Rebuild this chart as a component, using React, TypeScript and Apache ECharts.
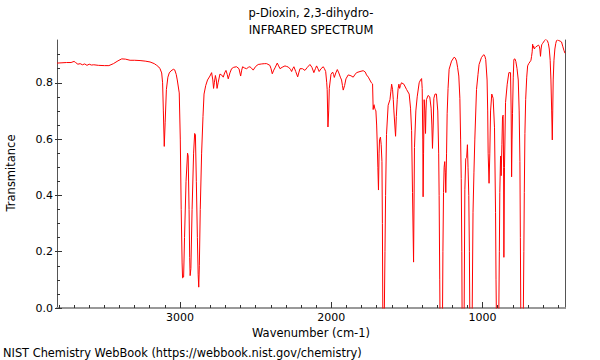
import React, { useEffect, useRef } from "react";
import * as echarts from "echarts";

const wavenumbers: number[] = [
  3813, 3780, 3750, 3720, 3700, 3690, 3675, 3660, 3645, 3630, 3615, 3600, 3585, 3570, 3540, 3500, 3470, 3440, 3410, 3385,
  3360, 3330, 3300, 3264, 3230, 3198, 3170, 3154, 3140, 3132, 3121, 3115, 3110, 3104, 3098, 3090, 3080, 3071, 3060, 3044,
  3035, 3025, 3018, 3005, 2998, 2992, 2986, 2983, 2976, 2970, 2960, 2950, 2946, 2940, 2936, 2933, 2928, 2920, 2910, 2903,
  2898, 2892, 2885, 2880, 2876, 2872, 2866, 2857, 2848, 2841, 2830, 2818, 2802, 2791, 2783, 2778, 2773, 2766, 2760, 2755,
  2748, 2736, 2725, 2714, 2705, 2696, 2688, 2681, 2670, 2659, 2645, 2626, 2610, 2599, 2592, 2586, 2575, 2560, 2548, 2538,
  2527, 2516, 2500, 2483, 2460, 2440, 2427, 2406, 2398, 2390, 2380, 2372, 2357, 2348, 2339, 2325, 2306, 2295, 2284, 2270,
  2262, 2255, 2247, 2235, 2222, 2215, 2207, 2190, 2174, 2158, 2141, 2128, 2115, 2105, 2097, 2088, 2080, 2068, 2053, 2045,
  2037, 2030, 2027, 2022, 2017, 2013, 2002, 1991, 1985, 1980, 1970, 1960, 1950, 1940, 1932, 1926, 1921, 1912, 1903, 1888,
  1870, 1855, 1845, 1833, 1810, 1789, 1775, 1767, 1755, 1745, 1735, 1727, 1723, 1720, 1717, 1713, 1709, 1705, 1700, 1697,
  1692, 1688, 1684, 1681, 1675, 1670, 1665, 1662, 1659, 1650, 1645, 1641, 1635, 1624, 1612, 1606, 1601, 1595, 1590, 1586,
  1580, 1575, 1570, 1564, 1558, 1553, 1548, 1543, 1536, 1520, 1502, 1485, 1476, 1469, 1463, 1456, 1450, 1441, 1432, 1419,
  1410, 1403, 1399, 1395, 1393, 1390, 1386, 1381, 1377, 1374, 1371, 1360, 1349, 1340, 1335, 1331, 1326, 1322, 1314, 1305,
  1296, 1290, 1287, 1283, 1281, 1265, 1262, 1258, 1254, 1250, 1246, 1243, 1238, 1234, 1228, 1221, 1205, 1188, 1180, 1172,
  1165, 1157, 1150, 1145, 1141, 1137, 1135, 1122, 1117, 1111, 1105, 1100, 1096, 1091, 1087, 1084, 1069, 1063, 1057, 1051,
  1040, 1030, 1023, 1007, 992, 985, 979, 970, 966, 963, 957, 952, 947, 939, 930, 921, 914, 911, 908, 893,
  889, 886, 881, 877, 872, 868, 864, 861, 859, 855, 848, 837, 826, 815, 811, 808, 805, 802, 797, 793,
  786, 780, 772, 764, 758, 753, 750, 747, 731, 727, 724, 720, 715, 708, 702, 695, 687, 680, 676, 672,
  669, 665, 662, 658, 652, 647, 640, 631, 625, 621, 617, 613, 609, 603, 599, 590, 583, 578, 572, 565,
  559, 553, 548, 543, 539, 536, 533, 528, 522, 516, 511, 503, 496, 487, 478, 470, 462, 455,
];

const transmittance: number[] = [
  0.870, 0.871, 0.872, 0.872, 0.876, 0.872, 0.866, 0.868, 0.864, 0.867, 0.862, 0.866, 0.863, 0.864, 0.862, 0.861, 0.861, 0.868, 0.878, 0.885,
  0.884, 0.880, 0.880, 0.879, 0.877, 0.874, 0.868, 0.862, 0.856, 0.850, 0.835, 0.800, 0.700, 0.574, 0.660, 0.776, 0.820, 0.835, 0.842, 0.848,
  0.846, 0.830, 0.810, 0.764, 0.600, 0.350, 0.160, 0.107, 0.110, 0.250, 0.450, 0.550, 0.540, 0.350, 0.180, 0.115, 0.140, 0.350, 0.550, 0.620,
  0.615, 0.450, 0.250, 0.120, 0.074, 0.150, 0.350, 0.550, 0.680, 0.760, 0.790, 0.810, 0.824, 0.836, 0.810, 0.780, 0.800, 0.826, 0.810, 0.780,
  0.800, 0.831, 0.828, 0.820, 0.835, 0.844, 0.830, 0.814, 0.835, 0.850, 0.855, 0.857, 0.850, 0.824, 0.845, 0.857, 0.853, 0.850, 0.855, 0.857,
  0.852, 0.845, 0.858, 0.865, 0.867, 0.868, 0.868, 0.862, 0.850, 0.832, 0.845, 0.853, 0.870, 0.860, 0.850, 0.855, 0.860, 0.858, 0.856, 0.848,
  0.840, 0.850, 0.857, 0.840, 0.821, 0.835, 0.850, 0.850, 0.844, 0.855, 0.865, 0.855, 0.836, 0.850, 0.860, 0.850, 0.840, 0.850, 0.857, 0.850,
  0.840, 0.800, 0.776, 0.643, 0.700, 0.780, 0.830, 0.838, 0.830, 0.819, 0.835, 0.847, 0.835, 0.820, 0.810, 0.790, 0.774, 0.790, 0.814, 0.828,
  0.825, 0.820, 0.828, 0.836, 0.840, 0.843, 0.838, 0.828, 0.820, 0.810, 0.800, 0.796, 0.705, 0.720, 0.722, 0.710, 0.705, 0.700, 0.650, 0.597,
  0.500, 0.419, 0.550, 0.597, 0.607, 0.580, 0.520, 0.300, -0.050, -0.050, 0.200, 0.400, 0.616, 0.720, 0.740, 0.770, 0.795, 0.777, 0.740, 0.700,
  0.650, 0.610, 0.680, 0.740, 0.780, 0.795, 0.780, 0.790, 0.800, 0.795, 0.776, 0.760, 0.710, 0.630, 0.410, 0.163, 0.570, 0.700, 0.750, 0.800,
  0.810, 0.815, 0.780, 0.600, 0.395, 0.550, 0.740, 0.700, 0.620, 0.700, 0.740, 0.755, 0.750, 0.710, 0.650, 0.567, 0.650, 0.745, 0.760, 0.760,
  0.700, 0.550, 0.400, 0.100, -0.050, -0.050, 0.200, 0.410, 0.500, 0.520, 0.480, 0.410, 0.550, 0.690, 0.780, 0.848, 0.877, 0.891, 0.888, 0.877,
  0.855, 0.824, 0.745, 0.600, 0.460, 0.200, -0.050, -0.050, 0.420, 0.530, 0.535, 0.580, 0.500, 0.400, 0.200, -0.050, -0.050, 0.340, 0.480, 0.600,
  0.776, 0.830, 0.865, 0.890, 0.900, 0.895, 0.883, 0.810, 0.700, 0.550, 0.443, 0.550, 0.700, 0.760, 0.745, 0.640, 0.340, 0.100, -0.050, -0.050,
  0.200, 0.410, 0.540, 0.470, 0.580, 0.680, 0.685, 0.500, 0.180, 0.500, 0.730, 0.795, 0.836, 0.836, 0.700, 0.466, 0.600, 0.690, 0.820, 0.883,
  0.885, 0.876, 0.850, 0.810, 0.700, 0.520, 0.250, -0.050, -0.050, 0.200, 0.410, 0.620, 0.740, 0.820, 0.860, 0.868, 0.874, 0.880, 0.894, 0.910,
  0.937, 0.925, 0.930, 0.920, 0.925, 0.928, 0.930, 0.934, 0.930, 0.920, 0.894, 0.920, 0.935, 0.940, 0.940, 0.950, 0.955, 0.952, 0.950, 0.940,
  0.920, 0.880, 0.810, 0.700, 0.597, 0.700, 0.810, 0.880, 0.920, 0.940, 0.950, 0.952, 0.950, 0.948, 0.945, 0.930, 0.915, 0.905,
];

const xMajorTicks: number[] = [1000, 2000, 3000];
const xMinorTicks: number[] = [
  500, 600, 700, 800, 900, 1000, 1100, 1200, 1300, 1400, 1500, 1600, 1700, 1800, 1900, 2000, 2100, 2200, 2300,
  2400, 2500, 2600, 2700, 2800, 2900, 3000, 3100, 3200, 3300, 3400, 3500, 3600, 3700, 3800,
];
const yMajorTicks: number[] = [0, 0.2, 0.4, 0.6, 0.8];
const yMinorTicks: number[] = [0.05, 0.1, 0.15, 0.25, 0.3, 0.35, 0.45, 0.5, 0.55, 0.65, 0.7, 0.75, 0.85, 0.9];

const titleLines: string[] = ["p-Dioxin, 2,3-dihydro-", "INFRARED SPECTRUM"];
const xTitle = "Wavenumber (cm-1)";
const yTitle = "Transmitance";
const footer = "NIST Chemistry WebBook (https://webbook.nist.gov/chemistry)";

const X_MIN = 455;
const X_MAX = 3813;
const Y_MIN = 0;
const Y_MAX = 0.952;
const FONT = "DejaVu Sans";

export default function App() {
  const ref = useRef<HTMLDivElement>(null);
  useEffect(() => {
    if (!ref.current) return;
    const chart = echarts.init(ref.current, undefined, { renderer: "svg" });
    const data = wavenumbers.map((w, i) => [w, transmittance[i]]);
    const baseX = { type: "value", inverse: true, min: X_MIN, max: X_MAX, splitLine: { show: false } };
    const baseY = { type: "value", min: Y_MIN, max: Y_MAX, splitLine: { show: false } };
    chart.setOption({
      animation: false,
      backgroundColor: "#fff",
      grid: { left: 57, top: 40, width: 508, height: 268, containLabel: false },
      xAxis: [
        {
          ...baseX,
          position: "bottom",
          axisLine: { show: true, lineStyle: { color: "#333", width: 1 } },
          axisTick: { show: true, inside: true, length: 6, customValues: xMajorTicks, lineStyle: { color: "#333" } },
          axisLabel: {
            show: true,
            customValues: xMajorTicks,
            formatter: (v: number) => String(v),
            color: "#000",
            fontFamily: FONT,
            fontSize: 11,
            margin: 4,
          },
        },
        {
          ...baseX,
          position: "bottom",
          axisLine: { show: false },
          axisTick: { show: true, inside: true, length: 3, customValues: xMinorTicks, lineStyle: { color: "#333" } },
          axisLabel: { show: false },
        },
        {
          ...baseX,
          position: "top",
          axisLine: { show: true, lineStyle: { color: "#999", width: 2 } },
          axisTick: { show: false },
          axisLabel: { show: false },
        },
      ],
      yAxis: [
        {
          ...baseY,
          position: "left",
          axisLine: { show: true, lineStyle: { color: "#555", width: 1 } },
          axisTick: { show: true, inside: true, length: 5, customValues: yMajorTicks, lineStyle: { color: "#333" } },
          axisLabel: {
            show: true,
            customValues: yMajorTicks,
            formatter: (v: number) => v.toFixed(1),
            color: "#000",
            fontFamily: FONT,
            fontSize: 11,
            margin: 4,
          },
        },
        {
          ...baseY,
          position: "left",
          axisLine: { show: false },
          axisTick: { show: true, inside: true, length: 3, customValues: yMinorTicks, lineStyle: { color: "#333" } },
          axisLabel: { show: false },
        },
        {
          ...baseY,
          position: "left",
          axisLine: { show: false },
          axisTick: { show: true, inside: false, length: 2, customValues: yMajorTicks, lineStyle: { color: "#333" } },
          axisLabel: { show: false },
        },
        {
          ...baseY,
          position: "right",
          axisLine: { show: true, lineStyle: { color: "#555", width: 1 } },
          axisTick: { show: false },
          axisLabel: { show: false },
        },
      ],
      series: [
        {
          type: "line",
          xAxisIndex: 0,
          yAxisIndex: 0,
          data,
          showSymbol: false,
          symbol: "none",
          clip: true,
          lineStyle: { color: "#ff0000", width: 1 },
        },
      ],
      graphic: [
        {
          type: "text",
          x: 311,
          y: 13,
          style: { text: titleLines[0], font: `11.5px "${FONT}"`, fill: "#000", align: "center", verticalAlign: "middle" },
        },
        {
          type: "text",
          x: 311,
          y: 30,
          style: { text: titleLines[1], font: `11.5px "${FONT}"`, fill: "#000", align: "center", verticalAlign: "middle" },
        },
        {
          type: "text",
          x: 311,
          y: 333,
          style: { text: xTitle, font: `11.5px "${FONT}"`, fill: "#000", align: "center", verticalAlign: "middle" },
        },
        {
          type: "text",
          x: 11,
          y: 173,
          rotation: Math.PI / 2,
          style: { text: yTitle, font: `11.5px "${FONT}"`, fill: "#000", align: "center", verticalAlign: "middle" },
        },
        {
          type: "text",
          x: 3,
          y: 353,
          style: { text: footer, font: `11.4px "${FONT}"`, fill: "#000", align: "left", verticalAlign: "middle" },
        },
      ],
    });
    return () => chart.dispose();
  }, []);
  return <div ref={ref} style={{ width: 600, height: 360, position: "absolute", left: 0, top: 0 }} />;
}
